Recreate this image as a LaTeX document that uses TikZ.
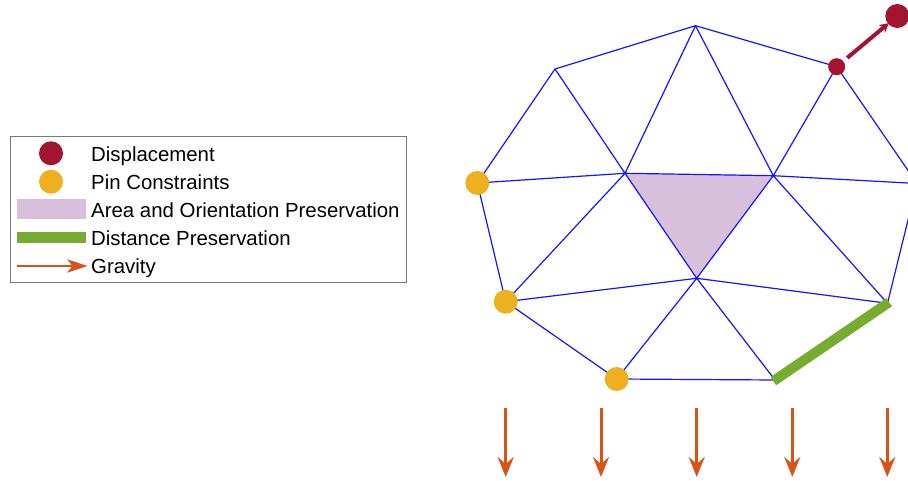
\documentclass[tikz,border=0pt]{standalone}
\usepackage{fontspec}
\setmainfont{Liberation Sans}
\usetikzlibrary{arrows.meta}
\definecolor{mred}{RGB}{162,20,47}
\definecolor{myellow}{RGB}{237,177,32}
\definecolor{mgreen}{RGB}{119,172,48}
\definecolor{morange}{RGB}{217,83,25}
\definecolor{mpurple}{RGB}{216,191,220}
\definecolor{mblue}{RGB}{20,20,255}
\tikzset{
  mesh/.style={draw=mblue, line width=1.2pt},
  pin/.style={circle, fill=myellow, minimum size=24pt, inner sep=0pt},
  disp/.style={circle, fill=mred, inner sep=0pt},
  grav/.style={draw=morange, line width=3pt, -{Stealth[length=20pt,width=16pt,inset=7pt]}},
  legtext/.style={anchor=base west, inner sep=0pt, font=\fontsize{20.4}{24}\selectfont},
}
\begin{document}
\begin{tikzpicture}[x=1pt,y=-1pt]
\useasboundingbox (0,0) rectangle (908,481);
\clip (0,0) rectangle (908,481);
% mesh vertices
\coordinate (T)  at (695.5,25.7);
\coordinate (UL) at (555,69);
\coordinate (UR) at (836.7,66.7);
\coordinate (L)  at (477.3,183);
\coordinate (A)  at (625,173.3);
\coordinate (B)  at (773.3,175.7);
\coordinate (R)  at (917,183.5);
\coordinate (C)  at (696.7,278.3);
\coordinate (LL) at (505.7,301.7);
\coordinate (LR) at (887.5,303.3);
\coordinate (Bo) at (616.7,379);
\coordinate (BR) at (775,380);
% area triangle
\fill[mpurple] (A) -- (B) -- (C) -- cycle;
% mesh edges
\draw[mesh] (T) -- (UL) (T) -- (UR) (UL) -- (L) (L) -- (LL) (LL) -- (Bo)
  (Bo) -- (BR) (BR) -- (LR) (LR) -- (R) (R) -- (UR);
\draw[mesh] (UL) -- (A) (T) -- (A) (T) -- (B) (UR) -- (B) (L) -- (A) (A) -- (B)
  (B) -- (R) (A) -- (C) (B) -- (C) (LL) -- (A) (LL) -- (C) (C) -- (LR) (B) -- (LR)
  (C) -- (Bo) (C) -- (BR);
% distance preservation
\draw[mgreen, line width=10pt, shorten <=-2pt, shorten >=-2pt] (BR) -- (LR);
% pins
\node[pin] (p1) at (L) {};
\node[pin] (p2) at (LL) {};
\node[pin] (p3) at (Bo) {};
% displacement
\node[disp, minimum size=17pt] (d0) at (UR) {};
\node[disp, minimum size=24pt] (d1) at (897.3,16) {};
\draw[mred, line width=4pt, -{Stealth[length=9pt,width=10pt]}, shorten <=5pt, shorten >=-1pt] (d0) -- (d1);
% gravity
\foreach \x [count=\i] in {505.7,601,696.7,792.3,887.3} {
  \coordinate (g\i a) at (\x,408);
  \coordinate (g\i b) at (\x,477);
  \draw[grav] (g\i a) -- (g\i b);
}
% legend
\node[draw={rgb,255:red,120;green,120;blue,120}, line width=1.2pt, minimum width=396pt, minimum height=145.5pt, anchor=north west, inner sep=0pt] (leg) at (9.7,136.2) {};
\node[disp, minimum size=24pt] (l1) at (51,153.3) {};
\node[pin] (l2) at (51,181.7) {};
\node[fill=mpurple, minimum width=69pt, minimum height=20pt, inner sep=0pt] (l3) at (51.2,209.3) {};
\node[fill=mgreen, minimum width=69pt, minimum height=10.5pt, inner sep=0pt] (l4) at (51.2,237.3) {};
\coordinate (l5a) at (16.7,266);
\coordinate (l5b) at (87.5,266);
\draw[morange, line width=2.8pt, -{Stealth[length=20pt,width=13pt,inset=5pt]}] (l5a) -- (l5b);
\node[legtext] (t1) at (91,161.7) {Displacement};
\node[legtext] (t2) at (91,190) {Pin Constraints};
\node[legtext] (t3) at (91,217.5) {Area and Orientation Preservation};
\node[legtext] (t4) at (91,245.5) {Distance Preservation};
\node[legtext] (t5) at (91,274) {Gravity};
\end{tikzpicture}
\end{document}
